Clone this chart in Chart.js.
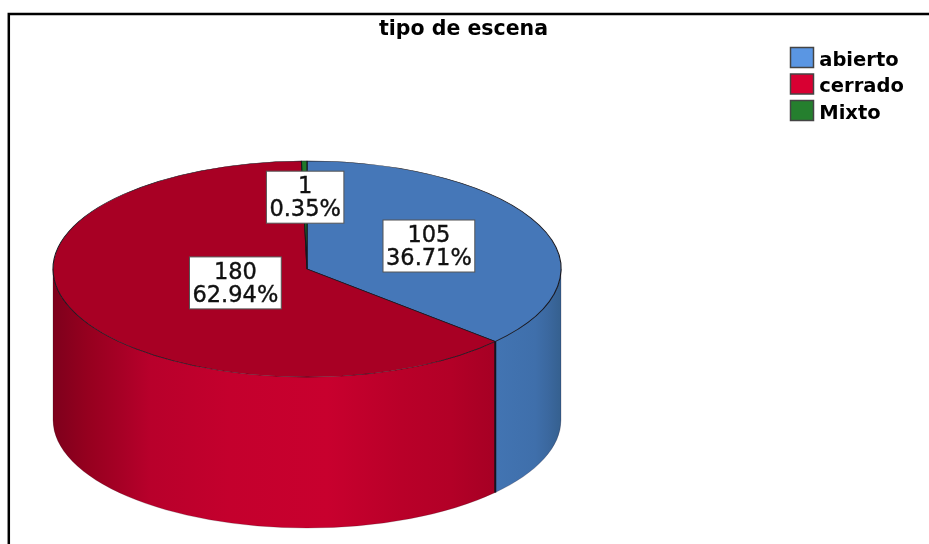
<!DOCTYPE html>
<html>
<head>
<meta charset="utf-8">
<style>html,body{margin:0;padding:0;background:#fff}canvas{display:block}</style>
<script src="https://cdn.jsdelivr.net/npm/chart.js@4"></script>
</head>
<body>
<canvas id="c" width="929" height="544"></canvas>
<script>
const titleText = 'tipo de escena';
const categories = ['abierto', 'cerrado', 'Mixto'];
const counts = [105, 180, 1];
const topColors = ['#4577B8', '#A80024', '#1F7A2A'];
const legendColors = ['#5A96E3', '#D80032', '#257F2E'];
const labelRadii = [0.525, 0.31, 0.665];
const tilt = 108 / 254;
const depth = 151;
const blueWall = [[0, '#4274B2'], [0.6, '#3F6FAB'], [0.8, '#3B689F'], [1, '#35608F']];
const redWall = [[0, '#7E001C'], [0.08, '#96001F'], [0.16, '#A80026'], [0.22, '#B8002B'], [0.4, '#C4002D'], [0.62, '#C8002E'], [0.79, '#B90029'], [0.9, '#B30027'], [1, '#A60024']];
const wallStops = [blueWall, redWall, blueWall];
const wallSpans = [[497, 561], [53, 495], [53, 561]];

const pie3d = {
  id: 'pie3d',
  beforeDraw(chart) {
    const c = chart.ctx;
    c.save();
    c.fillStyle = '#fff';
    c.fillRect(0, 0, chart.width, chart.height);
    c.strokeStyle = '#000';
    c.lineWidth = 2.5;
    c.beginPath();
    c.moveTo(8.8, 544);
    c.lineTo(8.8, 14);
    c.lineTo(929, 14);
    c.stroke();
    c.restore();
  },
  afterLayout(chart) {
    const l = chart.legend;
    l.left = 783.5; l.right = 929; l.top = 44; l.bottom = 300;
    l.width = 145.5; l.height = 256;
    const t = chart.titleBlock;
    t.left = 0; t.right = 927; t.width = 927;
  },
  beforeDatasetsDraw(chart) {
    const c = chart.ctx;
    const arcs = chart.getDatasetMeta(0).data;
    arcs.forEach((arc, i) => {
      const a = Math.max(arc.startAngle, 0);
      const b = Math.min(arc.endAngle, Math.PI);
      if (b <= a) return;
      const rx = arc.outerRadius, ry = rx * tilt;
      const g = c.createLinearGradient(wallSpans[i][0], 0, wallSpans[i][1], 0);
      wallStops[i].forEach(s => g.addColorStop(s[0], s[1]));
      c.save();
      c.beginPath();
      c.ellipse(arc.x, arc.y, rx, ry, 0, a, b);
      c.ellipse(arc.x, arc.y + depth, rx, ry, 0, b, a, true);
      c.closePath();
      c.fillStyle = g;
      c.fill();
      c.strokeStyle = 'rgba(40,10,20,0.3)';
      c.lineWidth = 0.7;
      c.stroke();
      c.restore();
    });
    const first = arcs[1];
    const edgeA = first.startAngle;
    const ex = first.x + first.outerRadius * Math.cos(edgeA);
    const ey = first.y + first.outerRadius * tilt * Math.sin(edgeA);
    c.save();
    c.strokeStyle = '#14141e';
    c.lineWidth = 2;
    c.beginPath();
    c.moveTo(ex, ey);
    c.lineTo(ex, ey + depth);
    c.stroke();
    c.restore();
    c.save();
    const cx = first.x, cy = first.y;
    c.translate(cx, cy);
    c.scale(1, tilt);
    c.translate(-cx, -cy);
  },
  afterDatasetsDraw(chart) {
    const c = chart.ctx;
    c.restore();
    const total = counts.reduce((s, v) => s + v, 0);
    const arcs = chart.getDatasetMeta(0).data;
    c.save();
    c.font = '22.5px "DejaVu Sans"';
    c.textAlign = 'center';
    c.textBaseline = 'middle';
    arcs.forEach((arc, i) => {
      const mid = (arc.startAngle + arc.endAngle) / 2;
      const r = arc.outerRadius * labelRadii[i];
      const x = arc.x + r * Math.cos(mid);
      const y = arc.y + r * tilt * Math.sin(mid);
      const l1 = String(counts[i]);
      const l2 = (counts[i] / total * 100).toFixed(2) + '%';
      const w = Math.max(c.measureText(l1).width, c.measureText(l2).width) + 6;
      c.fillStyle = '#fff';
      c.fillRect(x - w / 2, y - 26, w, 52);
      c.strokeStyle = '#555';
      c.lineWidth = 1;
      c.strokeRect(x - w / 2, y - 26, w, 52);
      c.fillStyle = '#111';
      c.strokeStyle = '#111';
      c.lineWidth = 0.4;
      [[l1, y - 10], [l2, y + 13]].forEach(p => {
        c.fillText(p[0], x, p[1]);
        c.strokeText(p[0], x, p[1]);
      });
    });
    c.restore();
  },
  afterDraw(chart) {
    const c = chart.ctx;
    c.save();
    categories.forEach((_, i) => {
      const y = 47.5 + i * 26.5;
      c.fillStyle = legendColors[i];
      c.fillRect(790.5, y, 23, 20);
      c.strokeStyle = '#444';
      c.lineWidth = 1.5;
      c.strokeRect(790.5, y, 23, 20);
    });
    c.restore();
  }
};

new Chart(document.getElementById('c'), {
  type: 'pie',
  data: {
    labels: categories,
    datasets: [{
      data: counts,
      backgroundColor: topColors,
      borderColor: '#16161e',
      borderWidth: 1.1,
      radius: 254
    }]
  },
  plugins: [pie3d],
  options: {
    responsive: false,
    animation: false,
    events: [],
    layout: { padding: { left: 53, right: 368, top: 0, bottom: 52 } },
    plugins: {
      tooltip: { enabled: false },
      title: {
        display: true,
        text: titleText,
        color: '#000',
        font: { family: '"DejaVu Sans"', size: 20.5, weight: 'bold', lineHeight: 1.2 },
        padding: { top: 17, bottom: 4.4 }
      },
      legend: {
        display: true,
        position: 'chartArea',
        align: 'start',
        labels: {
          boxWidth: 19,
          boxHeight: 10,
          padding: 7,
          color: '#111',
          font: { family: '"DejaVu Sans"', size: 19.5, weight: 'bold', lineHeight: 1 },
          generateLabels: () => categories.map((t, i) => ({
            text: t, fillStyle: legendColors[i], strokeStyle: legendColors[i], lineWidth: 0, index: i, hidden: false
          }))
        }
      }
    }
  }
});
</script>
</body>
</html>
